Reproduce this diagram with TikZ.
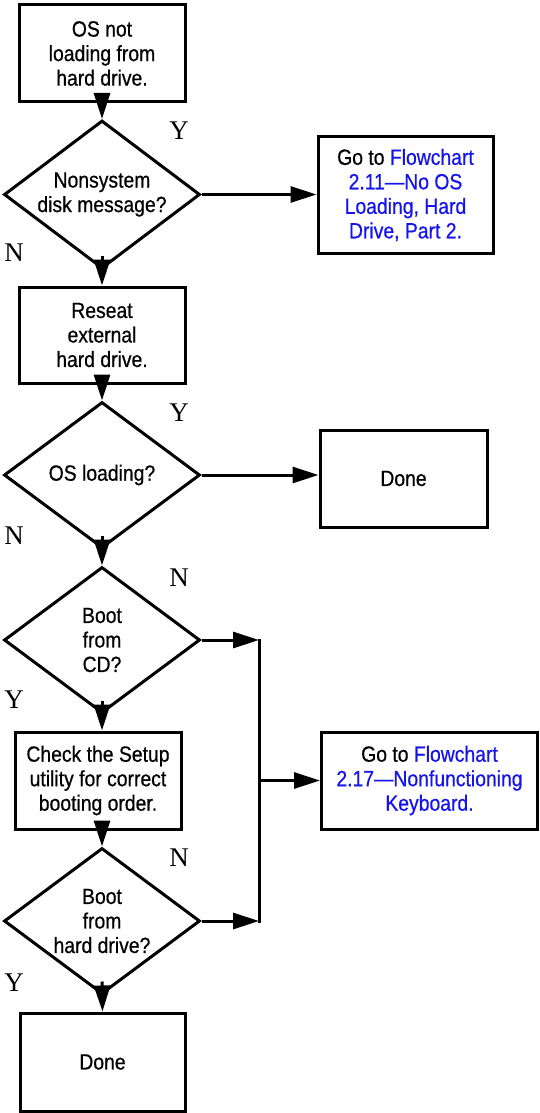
\documentclass[tikz,border=0pt]{standalone}
\usepackage{fontspec}
\setsansfont{Liberation Sans}[FakeStretch=0.88,FakeBold=0.6]
\newfontfamily\lblfont{Liberation Serif}
\usetikzlibrary{shapes.geometric,arrows.meta}
\definecolor{linkblue}{RGB}{20,20,235}
\begin{document}
\begin{tikzpicture}[x=1pt,y=1pt,
  txt/.style={align=center,font=\sffamily\fontsize{22}{24.5}\selectfont,inner sep=0pt},
  box/.style={draw,line width=3pt,inner sep=0pt},
  dia/.style={draw,line width=3pt,diamond,inner sep=0pt,minimum width=196pt,minimum height=146pt},
  lbl/.style={font=\lblfont\fontsize{27}{27}\selectfont,inner sep=0pt},
  arr/.style={line width=3pt,-{Triangle[length=26pt,width=16pt]}},
  ln/.style={line width=3pt}]
\useasboundingbox (0,0) rectangle (540,-1113);
\fill[white] (0,0) rectangle (540,-1113);

% Box 1
\node[box,minimum width=166pt,minimum height=97pt] (b1) at (102,-53.5) {};
\node[txt] (b1t) at (b1) {OS not\\loading from\\hard drive.};
% Diamond 1
\node[dia,minimum height=148pt] (d1) at (102,-194.5) {};
\node[txt] (d1t) at (d1) {Nonsystem\\disk message?};
\node[lbl] (y1) at (179,-131) {Y};
\node[lbl] (n1) at (14,-253) {N};
% Box 2
\node[box,minimum width=175pt,minimum height=116pt] (b2) at (405.5,-195) {};
\node[txt] (b2t) at (b2) {Go to \textcolor{linkblue}{Flowchart}\\\textcolor{linkblue}{2.11---No OS}\\\textcolor{linkblue}{Loading, Hard}\\\textcolor{linkblue}{Drive, Part 2.}};
% Box 3
\node[box,minimum width=166pt,minimum height=96pt] (b3) at (102,-335) {};
\node[txt] (b3t) at (b3) {Reseat\\external\\hard drive.};
% Diamond 2
\node[dia] (d2) at (102,-475) {};
\node[txt] (d2t) at (d2) {OS loading?};
\node[lbl] (y2) at (179,-413) {Y};
\node[lbl] (n2) at (14,-536) {N};
% Done 1
\node[box,minimum width=167pt,minimum height=97pt] (b4) at (403.5,-478.5) {};
\node[txt] (b4t) at (b4) {Done};
% Diamond 3
\node[dia] (d3) at (102,-640) {};
\node[txt] (d3t) at (d3) {Boot\\from\\CD?};
\node[lbl] (n3) at (179,-578) {N};
\node[lbl] (y3) at (14,-700) {Y};
% Box check
\node[box,minimum width=166pt,minimum height=97pt] (b5) at (98,-780.5) {};
\node[txt] (b5t) at (b5) {Check the Setup\\utility for correct\\booting order.};
% Diamond 4
\node[dia] (d4) at (102,-921) {};
\node[txt] (d4t) at (d4) {Boot\\from\\hard drive?};
\node[lbl] (n4) at (179,-858) {N};
\node[lbl] (y4) at (14,-983) {Y};
% Done 2
\node[box,minimum width=165pt,minimum height=98pt] (b6) at (102.5,-1062) {};
\node[txt] (b6t) at (b6) {Done};
% Box 2.17
\node[box,minimum width=216pt,minimum height=97pt] (b7) at (429.5,-780.5) {};
\node[txt] (b7t) at (b7) {Go to \textcolor{linkblue}{Flowchart}\\\textcolor{linkblue}{2.17---Nonfunctioning}\\\textcolor{linkblue}{Keyboard.}};

% junction points
\coordinate (j1) at (259,-640);
\coordinate (j2) at (259,-921);
\coordinate (jm) at (259,-780.5);

% connectors
\draw[arr] ([yshift=10pt]b1.south) -- (d1.north);
\draw[arr] (d1.east) -- (d1.east -| b2.west);
\draw[arr] ([yshift=14pt]d1.south) -- (b3.north);
\draw[arr] ([yshift=10pt]b3.south) -- (d2.north);
\draw[arr] (d2.east) -- (d2.east -| b4.west);
\draw[arr] ([yshift=14pt]d2.south) -- (d3.north);
\draw[arr] ([yshift=14pt]d3.south) -- (d3.south |- b5.north);
\draw[arr] ([yshift=10pt]b5.south -| d4.north) -- (d4.north);
\draw[arr] ([yshift=14pt]d4.south) -- (b6.north);
\draw[arr] (d3.east) -- (j1);
\draw[arr] (d4.east) -- (j2);
\draw[ln,line cap=rect] (j1) -- (j2);
\draw[arr] (jm) -- (b7.west);
\end{tikzpicture}
\end{document}
